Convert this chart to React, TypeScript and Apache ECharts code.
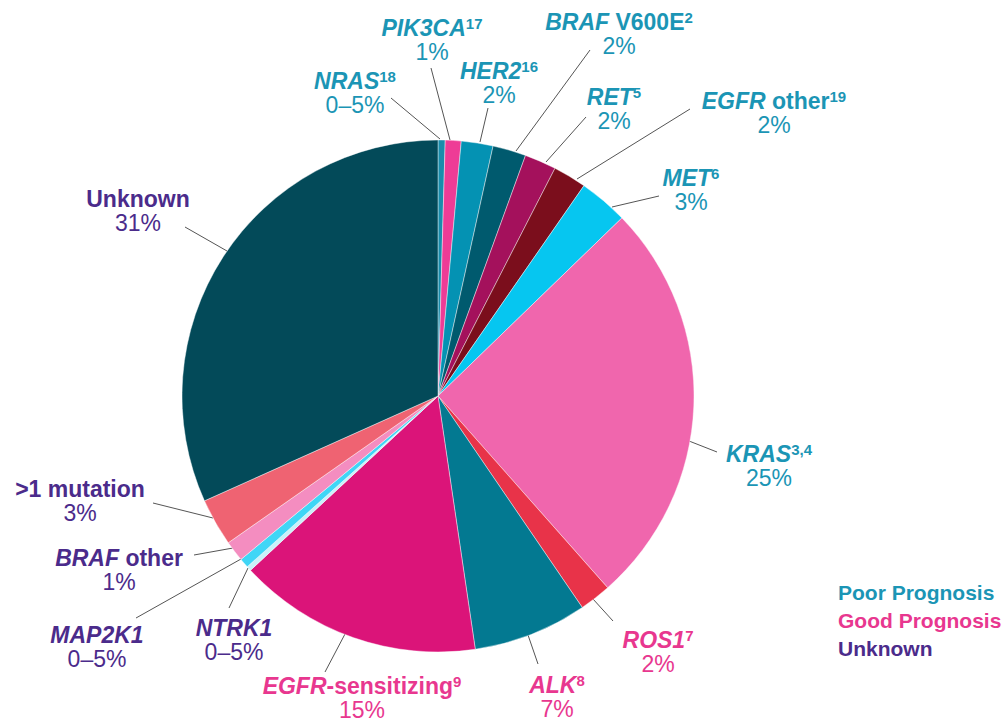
import React, { useEffect, useRef } from "react";
import * as echarts from "echarts";

// ---- Data ----
const categories = [
  "NRAS", "PIK3CA", "HER2", "BRAF V600E", "RET", "EGFR other", "MET", "KRAS",
  "ROS1", "ALK", "EGFR-sensitizing", "NTRK1", "MAP2K1", "BRAF other", ">1 mutation", "Unknown",
];
const values = [0.45, 1.0, 2.0, 2.1, 2.0, 2.1, 3.1, 25.7, 2.0, 7.2, 15.4, 0.3, 0.6, 1.3, 3.0, 31.7];
const italicParts = [
  "NRAS", "PIK3CA", "HER2", "BRAF", "RET", "EGFR", "MET", "KRAS",
  "ROS1", "ALK", "EGFR", "NTRK1", "MAP2K1", "BRAF", "", "",
];
const plainParts = ["", "", "", " V600E", "", " other", "", "", "", "", "-sensitizing", "", "", " other", ">1 mutation", "Unknown"];
const refs = ["18", "17", "16", "2", "5", "19", "6", "3,4", "7", "8", "9", "", "", "", "", ""];
const valueLabels = ["0–5%", "1%", "2%", "2%", "2%", "2%", "3%", "25%", "2%", "7%", "15%", "0–5%", "0–5%", "1%", "3%", "31%"];
// 0 = poor prognosis, 1 = good prognosis, 2 = unknown
const prognosis = [0, 0, 0, 0, 0, 0, 0, 0, 1, 1, 1, 2, 2, 2, 2, 2];
const legendLabels = ["Poor Prognosis", "Good Prognosis", "Unknown"];

// ---- Styles / layout ----
const sliceColors = [
  "#1a8cab", "#ee3c96", "#0492b3", "#005a6e", "#a4115c", "#7b0e1c", "#06c6f0", "#f066ad",
  "#e83349", "#037991", "#db1479", "#c9f1f9", "#3fd6f6", "#f48dc0", "#ef6372", "#034a59",
];
const groupColors = ["#1b95b5", "#e8378f", "#4b2b8b"];
const FONT = "Arial, 'Liberation Sans', Helvetica, sans-serif";

// label block centers
const labelPos: number[][] = [
  [355, 93], [432, 40], [499, 83], [619, 34], [614, 109], [774, 113], [691, 190], [769, 466],
  [658, 652], [557, 697], [362, 698], [234, 640], [97, 647], [119, 570], [80, 501], [138, 211],
];
// leader lines
const linePts: number[][][] = [
  [[391, 98], [440, 139]],
  [[431, 68], [450, 140]],
  [[488, 108], [480, 142]],
  [[590, 50], [516, 151]],
  [[586, 117], [546, 162]],
  [[690, 109], [577, 179]],
  [[659, 196], [612, 207]],
  [[717, 452], [689, 441]],
  [[613, 621], [593, 599]],
  [[538, 664], [528, 635]],
  [[325, 672], [345, 634]],
  [[229, 608], [248, 568]],
  [[136, 618], [241, 559]],
  [[194, 555], [233, 548]],
  [[153, 503], [213, 518]],
  [[185, 227], [227, 251]],
];

function buildRich() {
  const rich: Record<string, any> = {};
  groupColors.forEach((c, g) => {
    rich["i" + g] = { color: c, fontFamily: FONT, fontSize: 23, fontWeight: "bold", fontStyle: "italic", lineHeight: 24 };
    rich["b" + g] = { color: c, fontFamily: FONT, fontSize: 23, fontWeight: "bold", lineHeight: 24 };
    rich["s" + g] = { color: c, fontFamily: FONT, fontSize: 15, fontWeight: "bold", lineHeight: 16, verticalAlign: "top" };
    rich["v" + g] = { color: c, fontFamily: FONT, fontSize: 23, lineHeight: 24 };
  });
  return rich;
}

function labelText(i: number) {
  const g = prognosis[i];
  let first = "";
  if (italicParts[i]) first += `{i${g}|${italicParts[i]}}`;
  if (plainParts[i]) first += `{b${g}|${plainParts[i]}}`;
  if (refs[i]) first += `{s${g}|${refs[i]}}`;
  return `${first}\n{v${g}|${valueLabels[i]}}`;
}

export default function App() {
  const ref = useRef<HTMLDivElement>(null);
  useEffect(() => {
    if (!ref.current) return;
    const chart = echarts.init(ref.current, null, { renderer: "svg" });
    chart.setOption({
      animation: false,
      backgroundColor: "#ffffff",
      series: [
        {
          type: "pie",
          center: [438, 396],
          radius: 256,
          startAngle: 90,
          clockwise: true,
          avoidLabelOverlap: false,
          data: categories.map((name, i) => ({
            name,
            value: values[i],
            itemStyle: { color: sliceColors[i] },
          })),
          itemStyle: { borderColor: "rgba(255,255,255,0.7)", borderWidth: 0.6 },
          label: {
            show: true,
            position: "outside",
            overflow: "none",
            align: "center",
            formatter: (p: any) => labelText(p.dataIndex),
            rich: buildRich(),
          },
          labelLine: { show: true, lineStyle: { color: "#555555", width: 1 } },
          labelLayout: (p: any) => {
            const i = p.dataIndex;
            return {
              x: labelPos[i][0],
              y: labelPos[i][1],
              align: "center",
              verticalAlign: "middle",
              labelLinePoints: linePts[i],
            };
          },
          emphasis: { disabled: true },
        },
      ],
      graphic: legendLabels.map((t, g) => ({
        type: "text",
        x: 838,
        y: 592 + g * 28,
        style: {
          text: t,
          fill: groupColors[g],
          fontFamily: FONT,
          fontSize: 21,
          fontWeight: "bold",
          verticalAlign: "middle",
          align: "left",
        },
      })),
    });
    return () => chart.dispose();
  }, []);
  return <div ref={ref} style={{ position: "fixed", left: 0, top: 0, width: 1008, height: 723 }} />;
}
